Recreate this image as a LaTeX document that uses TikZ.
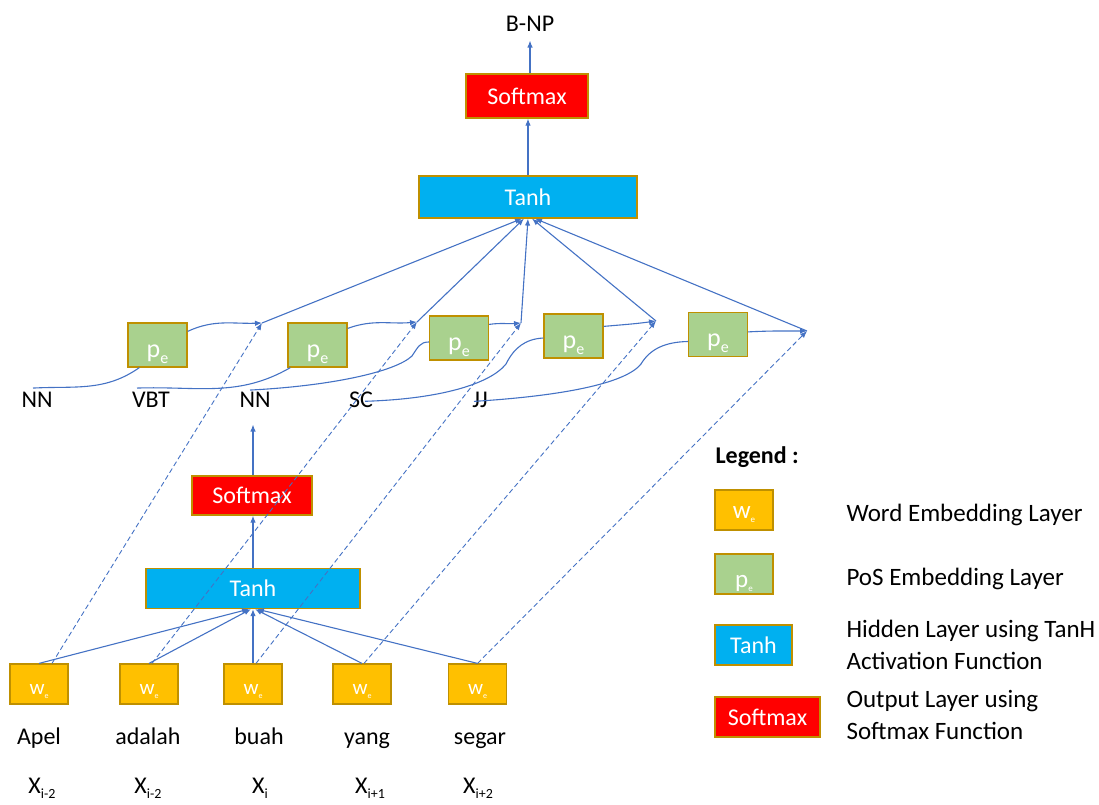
\documentclass[tikz,border=0pt]{standalone}
\usepackage{fontspec}
\setmainfont{Carlito}
\usetikzlibrary{arrows.meta,calc}
\definecolor{lineblue}{HTML}{4472C4}
\definecolor{wordfill}{HTML}{FFC000}
\definecolor{posfill}{HTML}{A9D18E}
\definecolor{tanhfill}{HTML}{00B0F0}
\definecolor{softfill}{HTML}{FF0000}
\definecolor{boxline}{HTML}{BF9000}
\newcommand{\embsub}[3]{#1\raisebox{-#3}{\fontsize{#2}{#2}\selectfont e}}
\newcommand{\xsub}[1]{X\raisebox{-5pt}{\fontsize{14}{14}\selectfont #1}}
\begin{document}
\begin{tikzpicture}[x=1pt,y=1pt,
    font=\fontsize{24}{32}\selectfont,
    layer/.style={draw=boxline,line width=1.2pt,text=white,inner sep=0pt},
    wordbox/.style={layer,fill=wordfill,minimum width=58pt,minimum height=40pt,
      text height=21pt,text depth=0pt,font=\fontsize{21}{21}\selectfont},
    posbox/.style={layer,fill=posfill,minimum width=59pt,minimum height=44pt,
      text height=25pt,text depth=0pt,font=\fontsize{26}{26}\selectfont},
    tanhbox/.style={layer,fill=tanhfill,minimum height=41pt},
    softbox/.style={layer,fill=softfill,minimum height=41pt},
    conn/.style={draw=lineblue,line width=1.1pt,-{Latex[length=7pt,width=5.5pt]}},
    dconn/.style={conn,line width=0.9pt,dash pattern=on 5pt off 3pt},
    link/.style={draw=lineblue,line width=1.1pt}]
  \useasboundingbox (0,0) rectangle (1099,804);
  \node[anchor=base] (bnp) at (530,772) {B-NP};
  \node[softbox,minimum width=122pt,minimum height=44pt] (smTop) at (527,708) {Softmax};
  \node[tanhbox,minimum width=218pt,minimum height=42pt] (thTop) at (528,607) {Tanh};
  \node[posbox] (pe1) at (157.5,459) {\embsub{p}{16}{6pt}};
  \node[posbox] (pe2) at (317.5,459) {\embsub{p}{16}{6pt}};
  \node[posbox] (pe3) at (459,466) {\embsub{p}{16}{6pt}};
  \node[posbox] (pe4) at (573.5,468) {\embsub{p}{16}{6pt}};
  \node[posbox] (pe5) at (718,469.5) {\embsub{p}{16}{6pt}};
  \node[anchor=base] (tagA) at (37,397) {NN};
  \node[anchor=base] (tagB) at (151,397) {VBT};
  \node[anchor=base] (tagC) at (255,397) {NN};
  \node[anchor=base] (tagD) at (361,397) {SC};
  \node[anchor=base] (tagE) at (480,397) {JJ};
  \node[softbox,minimum width=120pt,minimum height=39pt] (smLow) at (252,308.5) {Softmax};
  \node[tanhbox,minimum width=214pt,minimum height=40pt] (thLow) at (253,215.5) {Tanh};
  \node[wordbox] (w1) at (39,120) {\embsub{w}{8}{4pt}};
  \node[wordbox] (w2) at (149,120) {\embsub{w}{8}{4pt}};
  \node[wordbox] (w3) at (253,120) {\embsub{w}{8}{4pt}};
  \node[wordbox] (w4) at (362,120) {\embsub{w}{8}{4pt}};
  \node[wordbox] (w5) at (477.5,120) {\embsub{w}{8}{4pt}};
  \node[anchor=base] (word1) at (39,60) {Apel};
  \node[anchor=base] (word2) at (148,60) {adalah};
  \node[anchor=base] (word3) at (259,60) {buah};
  \node[anchor=base] (word4) at (367,60) {yang};
  \node[anchor=base] (word5) at (480,60) {segar};
  \node[anchor=base] (pos1) at (42,11) {\xsub{i-2}};
  \node[anchor=base] (pos2) at (148,11) {\xsub{i-2}};
  \node[anchor=base] (pos3) at (260,11) {\xsub{i}};
  \node[anchor=base] (pos4) at (370,11) {\xsub{i+1}};
  \node[anchor=base] (pos5) at (478,11) {\xsub{i+2}};
  \coordinate (m1) at (262,481);
  \coordinate (m2) at (417,482);
  \coordinate (m3) at (521,481);
  \coordinate (m4) at (656,483);
  \coordinate (m5) at (807,473);
  \node[anchor=base west,font=\bfseries\fontsize{24}{32}\selectfont] (legend) at (712,341) {Legend :};
  \node[wordbox,text height=16pt,font=\fontsize{25}{25}\selectfont] (keyW) at (744,294) {\embsub{w}{9}{4pt}};
  \node[posbox,minimum width=58pt,minimum height=40pt,text height=26pt,font=\fontsize{25}{25}\selectfont] (keyP) at (744,230) {\embsub{p}{9}{4pt}};
  \node[tanhbox,minimum width=77pt,minimum height=40pt] (keyT) at (753.5,159) {Tanh};
  \node[softbox,minimum width=105pt,minimum height=40pt] (keyS) at (767.5,87) {Softmax};
  \node[anchor=base west,font=\fontsize{25}{32}\selectfont] (keyWtext) at (843,283) {Word Embedding Layer};
  \node[anchor=base west,font=\fontsize{25}{32}\selectfont] (keyPtext) at (843,219) {PoS Embedding Layer};
  \node[anchor=west,align=left,font=\fontsize{25}{32}\selectfont] (keyTtext) at (843,159) {Hidden Layer using TanH\\Activation Function};
  \node[anchor=west,align=left,font=\fontsize{25}{32}\selectfont] (keyStext) at (843,89) {Output Layer using\\Softmax Function};
  \begin{scope}[conn]
    \draw (bnp.south |- smTop.north) -- ([yshift=-5pt]bnp.south);
    \draw (thTop.north) -- (thTop.north |- smTop.south);
    \draw (thLow.north) -- (thLow.north |- smLow.south);
    \draw (smLow.north -| thLow.north) -- ([yshift=-14pt]tagC.south -| thLow.north);
    \draw (w1.north) -- ($(thLow.south)+(-4,0)$);
    \draw (w2.north) -- ($(thLow.south)+(-2,0)$);
    \draw (w3.north) -- (thLow.south);
    \draw (w4.north) -- ($(thLow.south)+(2,0)$);
    \draw (w5.north) -- ($(thLow.south)+(4,0)$);
    \draw (m1) -- ($(thTop.south)+(-6,0)$);
    \draw (m2) -- ($(thTop.south)+(-4,0)$);
    \draw (m3) -- (thTop.south);
    \draw (m4) -- ($(thTop.south)+(4,0)$);
    \draw (m5) -- ($(thTop.south)+(7,0)$);
    \draw ($(pe1.north east)+(0,-9)$) to[out=25,in=182] (m1);
    \draw ($(pe2.north east)+(0,-6)$) to[out=20,in=185] (m2);
    \draw ($(pe3.north east)+(0,-9)$) to[out=8,in=185] (m3);
    \draw ($(pe4.north east)+(0,-13)$) to[out=5,in=188] (m4);
    \draw ($(pe5.north east)+(0,-20)$) to[out=3,in=180] (m5);
  \end{scope}
  \begin{scope}[dconn]
    \draw ($(w1.north)+(13,0)$) -- (m1);
    \draw ($(w2.north)+(3,0)$) -- (m2);
    \draw ($(w3.north)+(3,0)$) -- (m3);
    \draw ($(w4.north)+(2,0)$) -- (m4);
    \draw (w5.north) -- (m5);
  \end{scope}
  \begin{scope}[link]
    \draw ($(tagA.north)+(-4,0)$) to[out=3,in=215] ($(pe1.south west)+(12,0)$);
    \draw ($(tagB.north)+(-14,0)$) to[out=2,in=210] ($(pe2.south west)+(3,0)$);
    \draw ($(tagC.north)+(-5,-2)$) .. controls (330,418) and (395,432) .. (412,448)
      .. controls (418,457) and (420,462) .. ($(pe3.west)+(0,-4)$);
    \draw ($(tagD.center)+(4,-2)$) .. controls (440,405) and (490,420) .. (506,440)
      .. controls (514,456) and (525,465) .. ($(pe4.west)+(0,-2)$);
    \draw ($(tagE.center)+(-6,-2)$) .. controls (560,408) and (625,420) .. (641,440)
      .. controls (650,455) and (665,462) .. ($(pe5.west)+(0,-7)$);
  \end{scope}
\end{tikzpicture}
\end{document}
